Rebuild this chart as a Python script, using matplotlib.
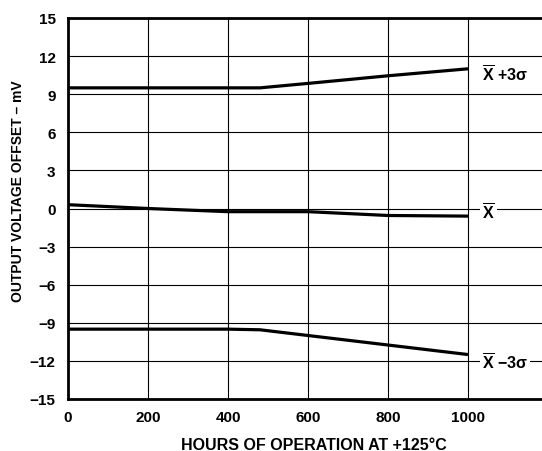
import matplotlib
matplotlib.use("Agg")
import matplotlib.pyplot as plt

# 数据：近似值
hours = [0, 200, 400, 480, 600, 800, 1000]
upper = [9.5, 9.5, 9.5, 9.5, 9.85, 10.45, 11.0]     # X + 3σ
mean = [0.3, 0.0, -0.25, -0.25, -0.25, -0.55, -0.6]  # X
lower = [-9.5, -9.5, -9.5, -9.55, -10.0, -10.75, -11.5]  # X - 3σ

x_ticks = [0, 200, 400, 600, 800, 1000]
y_ticks = [15, 12, 9, 6, 3, 0, -3, -6, -9, -12, -15]
y_labels = ["15", "12", "9", "6", "3", "0", "\u22123", "\u22126", "\u22129", "\u221212", "\u221215"]

plt.rcParams["font.family"] = ["Liberation Sans", "DejaVu Sans"]
plt.rcParams["font.weight"] = "bold"
plt.rcParams["mathtext.fontset"] = "custom"
plt.rcParams["mathtext.bf"] = "Liberation Sans:bold"
plt.rcParams["mathtext.rm"] = "Liberation Sans:bold"

fig = plt.figure(figsize=(5.42, 4.52), dpi=100)
ax = fig.add_axes([68 / 542, 52 / 452, 480 / 542, 381 / 452])

for y in [upper, mean, lower]:
    ax.plot(hours, y, color="black", lw=2.3, solid_capstyle="butt", zorder=3)

ax.set_xlim(0, 1200)
ax.set_ylim(-15, 15)
ax.set_xticks(x_ticks + [1200])
ax.set_xticklabels([str(t) for t in x_ticks] + [""])
ax.set_yticks(y_ticks)
ax.set_yticklabels(y_labels)
ax.grid(True, color="black", lw=0.8)
ax.tick_params(axis="x", length=0, labelsize=11, pad=8)
ax.tick_params(axis="y", length=0, labelsize=11, pad=9)
for s in ax.spines.values():
    s.set_linewidth(2)

ax.set_xlabel("HOURS OF OPERATION AT +125\u00b0C", fontsize=11.5, fontweight="bold")
ax.xaxis.set_label_coords(0.5125, -0.1)
ax.set_ylabel("OUTPUT VOLTAGE OFFSET \u2013 mV", fontsize=10, fontweight="bold")
ax.yaxis.set_label_coords(-0.09, 0.549)

box = dict(facecolor="white", edgecolor="none", pad=1.5)
ax.text(1035, 10.6, r"$\overline{\mathbf{X}}$ " + "+3\u03c3", fontsize=11.5,
        va="center", ha="left", bbox=box, zorder=4)
ax.text(1035, -0.3, r"$\overline{\mathbf{X}}$", fontsize=11.5, va="center", ha="left", bbox=box, zorder=4)
ax.text(1035, -12.1, r"$\overline{\mathbf{X}}$ " + "\u22123\u03c3", fontsize=11.5,
        va="center", ha="left", bbox=box, zorder=4)

fig.savefig("out.png", dpi=100)
